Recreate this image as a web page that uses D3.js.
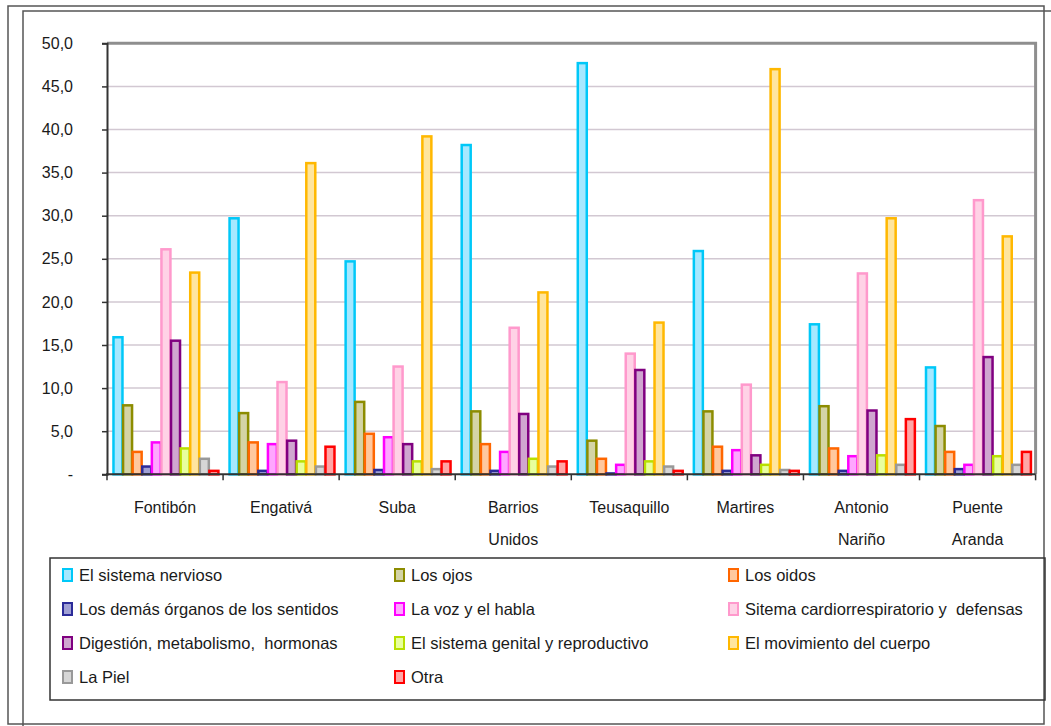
<!DOCTYPE html>
<html>
<head>
<meta charset="utf-8">
<script src="https://cdn.jsdelivr.net/npm/d3@7"></script>
<style>
  html, body { margin: 0; padding: 0; background: #fff; }
  svg text { font-family: "Liberation Sans", Arial, sans-serif; fill: #1a1a1a; }
</style>
</head>
<body>
<div id="root"></div>
<script>
'use strict';

// localidades (x categories), one label line per entry
const categories = ['Fontibón', 'Engativá', 'Suba', 'Barrios Unidos', 'Teusaquillo',
                    'Martires', 'Antonio Nariño', 'Puente Aranda'];
const categoryLines = [['Fontibón'], ['Engativá'], ['Suba'], ['Barrios', 'Unidos'], ['Teusaquillo'],
                       ['Martires'], ['Antonio', 'Nariño'], ['Puente', 'Aranda']];

const seriesNames = ['El sistema nervioso', 'Los ojos', 'Los oidos',
                     'Los demás órganos de los sentidos', 'La voz y el habla',
                     'Sitema cardiorrespiratorio y  defensas',
                     'Digestión, metabolismo,  hormonas', 'El sistema genital y reproductivo',
                     'El movimiento del cuerpo', 'La Piel', 'Otra'];

const nervioso   = [15.9, 29.7, 24.7, 38.2, 47.7, 25.9, 17.4, 12.4];
const ojos       = [ 8.0,  7.1,  8.4,  7.3,  3.9,  7.3,  7.9,  5.6];
const oidos      = [ 2.6,  3.7,  4.7,  3.5,  1.8,  3.2,  3.0,  2.6];
const demas      = [ 0.9,  0.4,  0.5,  0.4,  0.1,  0.4,  0.4,  0.6];
const voz        = [ 3.7,  3.5,  4.3,  2.6,  1.1,  2.8,  2.1,  1.1];
const cardio     = [26.1, 10.7, 12.5, 17.0, 14.0, 10.4, 23.3, 31.8];
const digestion  = [15.5,  3.9,  3.5,  7.0, 12.1,  2.2,  7.4, 13.6];
const genital    = [ 3.0,  1.5,  1.5,  1.8,  1.5,  1.1,  2.2,  2.1];
const movimiento = [23.4, 36.1, 39.2, 21.1, 17.6, 47.0, 29.7, 27.6];
const piel       = [ 1.8,  0.9,  0.6,  0.9,  0.9,  0.5,  1.1,  1.1];
const otra       = [ 0.4,  3.2,  1.5,  1.5,  0.4,  0.4,  6.4,  2.6];

const seriesValues = [nervioso, ojos, oidos, demas, voz, cardio, digestion,
                      genital, movimiento, piel, otra];

const yTicks = [0, 5, 10, 15, 20, 25, 30, 35, 40, 45, 50];

// stroke / fill per series
const strokes = ['#00c8f8', '#8c8c00', '#ff6600', '#2b2b99', '#ff00ff', '#ff99cc',
                 '#800080', '#b8e000', '#ffb800', '#999999', '#ff0000'];
const fills   = ['#a6e8ff', '#d4d4a6', '#ffc89e', '#a0a0d4', '#ffa6ff', '#ffd2e6',
                 '#d0a6d0', '#e8ff9e', '#ffe59e', '#d6d6d6', '#ffa6a6'];

const Root = document.querySelector('#root');

function draw() {
  const    w = 1051,
           h = 726,
        left = 107,
       right = 1035.6,
         top = 43.3,
      bottom = 474.3,

         svg = d3.select(Root)
                 .append('svg')
                 .attr('width', w)
                 .attr('height', h),

      locale = d3.formatLocale({ decimal: ',', thousands: '.', grouping: [3], currency: ['', ''] }),
         fmt = locale.format('.1f'),

      xScale = d3.scaleBand()
                 .domain(categories)
                 .range([left, right]),

      xInner = d3.scaleBand()
                 .domain(seriesNames)
                 .range([0, xScale.bandwidth()])
                 .paddingOuter(0.55),

      yScale = d3.scaleLinear()
                 .domain([0, 50])
                 .range([bottom, top]);

  // outer double frame
  svg.append('rect')
     .attr('x', 8).attr('y', 6)
     .attr('width', 1036).attr('height', 718)
     .attr('fill', 'none').attr('stroke', '#555').attr('stroke-width', 1.5);
  svg.append('path')
     .attr('d', 'M23,726 V11 H1051')
     .attr('fill', 'none').attr('stroke', '#555').attr('stroke-width', 1.5);

  // gridlines
  svg.append('g')
     .selectAll('line')
     .data(yTicks.slice(1, -1))
     .enter()
     .append('line')
     .attr('x1', left).attr('x2', right)
     .attr('y1', (d) => yScale(d)).attr('y2', (d) => yScale(d))
     .attr('stroke', '#d2c8d2')
     .attr('stroke-width', 1.5);

  // plot frame (top + right)
  svg.append('path')
     .attr('d', 'M' + left + ',' + top + ' H' + right + ' V' + bottom)
     .attr('fill', 'none')
     .attr('stroke', '#8e8e8e')
     .attr('stroke-width', 3);

  // bars
  const table = categories.map((c, i) => ({
    cat: c,
    bars: seriesNames.map((s, j) => ({ name: s, idx: j, value: seriesValues[j][i] }))
  }));

  svg.append('g')
     .selectAll('g')
     .data(table)
     .enter()
     .append('g')
     .attr('transform', (d) => 'translate(' + xScale(d.cat) + ',0)')
     .selectAll('rect')
     .data((d) => d.bars)
     .enter()
     .append('rect')
     .attr('x', (d) => xInner(d.name) + 1.2)
     .attr('y', (d) => yScale(d.value))
     .attr('width', xInner.bandwidth() - 0.6)
     .attr('height', (d) => yScale(0) - yScale(d.value))
     .attr('fill', (d) => fills[d.idx])
     .attr('stroke', (d) => strokes[d.idx])
     .attr('stroke-width', 2.5);

  // y axis
  const yAxis = d3.axisLeft(yScale)
                  .tickValues(yTicks)
                  .tickSize(5)
                  .tickPadding(29)
                  .tickFormat((d) => d === 0 ? '-' : fmt(d));

  const yg = svg.append('g')
                .attr('transform', 'translate(' + left + ',0)')
                .call(yAxis);
  yg.select('.domain').attr('stroke', '#333').attr('stroke-width', 2);
  yg.selectAll('.tick line').attr('stroke', '#333').attr('stroke-width', 1.5);
  yg.selectAll('.tick text')
    .attr('font-size', 16)
    .attr('font-family', '"Liberation Sans", Arial, sans-serif')
    .attr('fill', '#1a1a1a');

  // x axis line and boundary ticks
  svg.append('line')
     .attr('x1', left - 1).attr('x2', right)
     .attr('y1', bottom).attr('y2', bottom)
     .attr('stroke', '#333').attr('stroke-width', 2);

  const bounds = categories.map((c) => xScale(c)).concat([right]);
  svg.append('g')
     .selectAll('line')
     .data(bounds)
     .enter()
     .append('line')
     .attr('x1', (d) => d).attr('x2', (d) => d)
     .attr('y1', bottom).attr('y2', bottom + 6)
     .attr('stroke', '#333').attr('stroke-width', 1.5);

  // x labels
  svg.append('g')
     .selectAll('text')
     .data(categories)
     .enter()
     .append('text')
     .attr('x', (d) => xScale(d) + xScale.bandwidth() / 2)
     .attr('y', 513)
     .attr('text-anchor', 'middle')
     .attr('font-size', 16)
     .each(function (d, i) {
       d3.select(this)
         .selectAll('tspan')
         .data(categoryLines[i])
         .enter()
         .append('tspan')
         .attr('x', xScale(d) + xScale.bandwidth() / 2)
         .attr('dy', (t, k) => k === 0 ? 0 : 32)
         .text((t) => t);
     });

  // legend
  svg.append('rect')
     .attr('x', 50).attr('y', 558)
     .attr('width', 995).attr('height', 142)
     .attr('fill', 'none').attr('stroke', '#333').attr('stroke-width', 1.5);

  const colX = [62, 394, 728],
        rowY = [575, 609, 643, 677];

  const item = svg.append('g')
                  .selectAll('g')
                  .data(seriesNames)
                  .enter()
                  .append('g')
                  .attr('transform', (d, i) => 'translate(' + colX[i % 3] + ',' + rowY[Math.floor(i / 3)] + ')');

  item.append('rect')
      .attr('x', 1).attr('y', -6)
      .attr('width', 9).attr('height', 12)
      .attr('fill', (d, i) => fills[i])
      .attr('stroke', (d, i) => strokes[i])
      .attr('stroke-width', 2);

  item.append('text')
      .attr('x', 17)
      .attr('y', 6)
      .attr('font-size', 16.5)
      .style('white-space', 'pre')
      .text((d) => d);
}

draw();
</script>
</body>
</html>
